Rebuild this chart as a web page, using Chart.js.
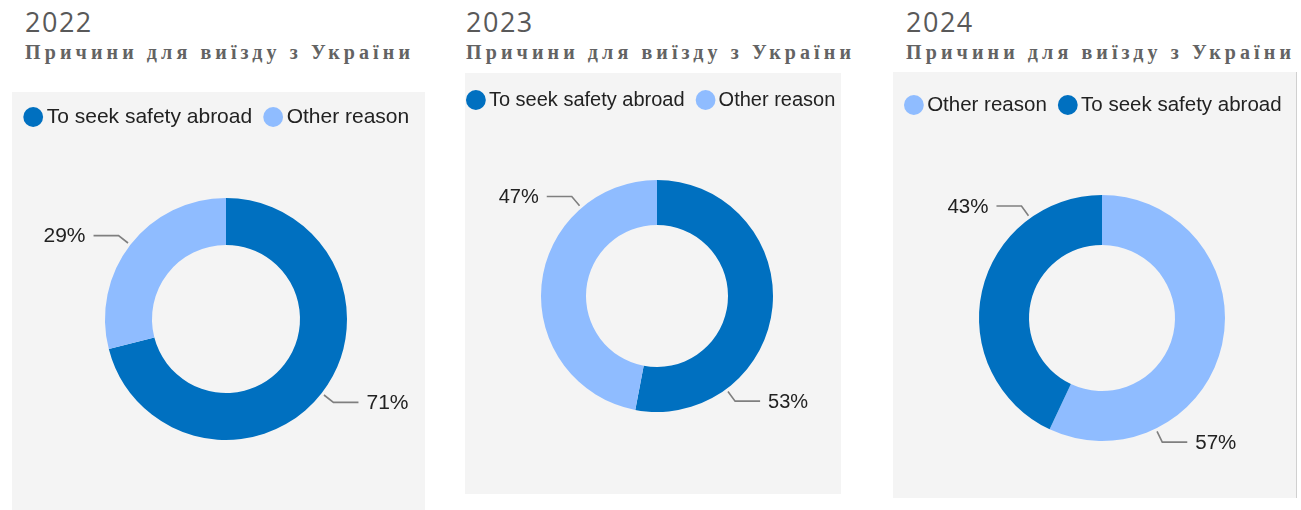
<!DOCTYPE html>
<html>
<head>
<meta charset="utf-8">
<script src="https://cdn.jsdelivr.net/npm/chart.js@4.4.1/dist/chart.umd.min.js"></script>
<style>
	html, body { margin:0; padding:0; background:#ffffff; overflow:hidden; }
	body { width:1301px; height:510px; position:relative; }
	.year { position:absolute; top:8px; font-family:"Open Sans", sans-serif; font-size:27px; line-height:27px; letter-spacing:1.5px; color:#595959; }
	.title { position:absolute; top:42px; font-family:"Liberation Serif", "Times New Roman", serif; font-weight:bold; font-size:20px; line-height:20px; letter-spacing:4.1px; color:#636363; white-space:nowrap; }
	.box { position:absolute; background:#f4f4f4; }
	canvas { position:absolute; }
</style>
</head>
<body>
<script>
//데이터
var years = ['2022', '2023', '2024'];
var chartTitle = 'Причини для виїзду з України';
var labels2022 = ['To seek safety abroad', 'Other reason'];
var labels2023 = ['To seek safety abroad', 'Other reason'];
var labels2024 = ['Other reason', 'To seek safety abroad'];
var shares2022 = [71, 29];
var shares2023 = [53, 47];
var shares2024 = [57, 43];

//색상
var reasonColors = { 'To seek safety abroad':'#0070c0', 'Other reason':'#8fbcff' };

//패널 배치 (절대 좌표) - 캡처마다 배율이 조금씩 달라서 글자 크기도 패널별
var panels = [
	{ box:[12, 92, 413, 418], textX:25, font:21, legendX:23.3, legendY:117, cx:226, cy:319, r:121, ir:74, shift:[0, 0], border:false },
	{ box:[465, 73, 376, 421], textX:466, font:20, legendX:466, legendY:100, cx:657, cy:296, r:116, ir:71, shift:[48, 44], border:false },
	{ box:[893, 72, 403, 426], textX:906, font:20.5, legendX:904, legendY:105, cx:1102, cy:318, r:123, ir:73, shift:[51.5, 41.7], border:true }
];
var allLabels = [labels2022, labels2023, labels2024];
var allShares = [shares2022, shares2023, shares2024];

var FONT_FAMILY = '"Liberation Sans", Arial, sans-serif';
var LEG_PAD = 18, LEG_BOX = 6, LEG_BOXH = 14;
var DOT_R = LEG_BOXH * Math.SQRT2 / 2;
Chart.defaults.font.family = FONT_FAMILY;

//도넛 바깥에 지시선 + 퍼센트 라벨
var leaderLabels = {
	id:'leaderLabels',
	afterDatasetsDraw:function(chart, args, opts){
		var ctx = chart.ctx;
		var meta = chart.getDatasetMeta(0);
		var data = chart.data.datasets[0].data;
		ctx.save();
		meta.data.forEach(function(arc, i){
			var p = arc.getProps(['x','y','startAngle','endAngle','outerRadius'], true);
			var a = (p.startAngle + p.endAngle) / 2 + opts.shift[i] * Math.PI / 180;
			var cos = Math.cos(a), sin = Math.sin(a);
			var x0 = p.x + cos * (p.outerRadius + 3), y0 = p.y + sin * (p.outerRadius + 3);
			var x1 = p.x + cos * (p.outerRadius + 15), y1 = p.y + sin * (p.outerRadius + 15);
			var dir = cos >= 0 ? 1 : -1;
			var x2 = x1 + dir * 25;
			ctx.strokeStyle = '#7f7f7f';
			ctx.lineWidth = 1.6;
			ctx.beginPath();
			ctx.moveTo(x0, y0);
			ctx.lineTo(x1, y1);
			ctx.lineTo(x2, y1);
			ctx.stroke();
			ctx.fillStyle = '#222222';
			ctx.font = opts.font + 'px ' + FONT_FAMILY;
			ctx.textAlign = dir > 0 ? 'left' : 'right';
			ctx.textBaseline = 'middle';
			ctx.fillText(data[i] + '%', x2 + dir * 8, y1 + 1);
		});
		ctx.restore();
	}
};

var measureCtx = document.createElement('canvas').getContext('2d');

function makePanel(k){
	var P = panels[k];
	var FONT = P.font;
	var bl = P.box[0], bt = P.box[1], bw = P.box[2], bh = P.box[3];

	var year = document.createElement('div');
	year.className = 'year';
	year.style.left = P.textX + 'px';
	year.textContent = years[k];
	document.body.appendChild(year);

	var title = document.createElement('div');
	title.className = 'title';
	title.style.left = P.textX + 'px';
	title.textContent = chartTitle;
	document.body.appendChild(title);

	var box = document.createElement('div');
	box.className = 'box';
	box.style.left = bl + 'px'; box.style.top = bt + 'px';
	box.style.width = bw + 'px'; box.style.height = bh + 'px';
	if(P.border) box.style.borderRight = '1px solid #d0d0d0';
	document.body.appendChild(box);

	//캔버스는 박스보다 크게, 투명
	var cl = bl - 60, W = bw + 160, H = 470;
	var cv = document.createElement('canvas');
	cv.width = W; cv.height = H;
	cv.style.left = cl + 'px'; cv.style.top = bt + 'px';
	document.body.appendChild(cv);

	var labels = allLabels[k];
	//범례 한 줄 폭 (Chart.js 계산 방식과 같게)
	measureCtx.font = FONT + 'px ' + FONT_FAMILY;
	var lineW = 0;
	labels.forEach(function(l){ lineW += LEG_BOX + FONT / 2 + measureCtx.measureText(l).width + LEG_PAD; });

	var cxRel = P.cx - cl;
	var xStart = P.legendX + DOT_R - LEG_BOX / 2 - cl;
	var align = 'start';
	var pl = xStart - LEG_PAD;
	if(2 * (cxRel - pl) < lineW + LEG_PAD + 2){
		align = 'end';
		pl = 2 * cxRel - lineW - xStart;
	}
	var pr = W - (2 * cxRel - pl);
	var pt = (P.legendY - bt) - (LEG_PAD + FONT / 2);
	var chartTop = pt + LEG_PAD + FONT + 10;
	var pb = H - (2 * (P.cy - bt) - chartTop);

	new Chart(cv, {
		type:'doughnut',
		data:{
			labels:labels,
			datasets:[{
				data:allShares[k],
				backgroundColor:labels.map(function(l){ return reasonColors[l]; }),
				borderWidth:0,
				hoverOffset:0
			}]
		},
		options:{
			responsive:false,
			animation:false,
			radius:P.r,
			cutout:(P.ir / P.r * 100) + '%',
			layout:{ padding:{ left:pl, right:pr, top:pt, bottom:pb } },
			plugins:{
				legend:{
					position:'top',
					align:align,
					labels:{
						usePointStyle:true,
						pointStyle:'circle',
						boxWidth:LEG_BOX,
						boxHeight:LEG_BOXH,
						padding:LEG_PAD,
						color:'#222222',
						font:{ size:FONT }
					}
				},
				tooltip:{ enabled:false },
				leaderLabels:{ shift:P.shift, font:FONT }
			}
		},
		plugins:[leaderLabels]
	});
}

for(var k = 0; k < panels.length; k++) makePanel(k);
</script>
</body>
</html>
